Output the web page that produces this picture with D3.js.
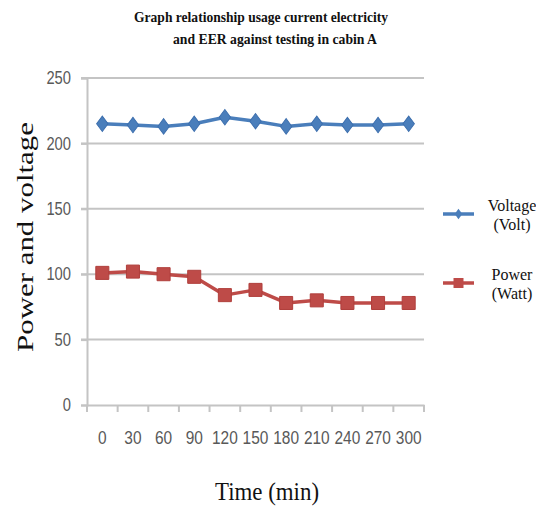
<!DOCTYPE html>
<html lang="en">
  <head>
    <meta charset="utf-8">
    <title>Power and voltage</title>
    <script src="https://cdn.jsdelivr.net/npm/d3@7"></script>
    <style>
      body { margin: 0; background: #fff; }
      .serif { font-family: "Liberation Serif", "Times New Roman", Tinos, serif; }
      .sans { font-family: "Liberation Sans", Arial, Arimo, sans-serif; }
    </style>
  </head>
  <body>
    <script>

      /* data */
      const times = [0, 30, 60, 90, 120, 150, 180, 210, 240, 270, 300];
      const voltage = [215, 214, 213, 215, 220, 217, 213, 215, 214, 214, 215];
      const power = [101, 102, 100, 98, 84, 88, 78, 80, 78, 78, 78];
      const y_ticks = [0, 50, 100, 150, 200, 250];
      const series_names = [["Voltage", "(Volt)"], ["Power", "(Watt)"]];

      const WIDTH = 536;
      const HEIGHT = 531;
      const PLOT_LEFT = 87;
      const PLOT_RIGHT = 424;
      const PLOT_TOP = 78;
      const PLOT_BOTTOM = 405;

      const BLUE = "#4a7ebb";
      const RED = "#be4b48";
      const GRID = "#c4c4c4";
      const LABEL = "#595959";

      let svg = d3.select("body").append("svg")
        .attr("width", WIDTH)
        .attr("height", HEIGHT);

      let x = d3.scaleBand()
        .domain(times)
        .range([PLOT_LEFT, PLOT_RIGHT]);

      let y = d3.scaleLinear()
        .domain([0, 250])
        .range([PLOT_BOTTOM, PLOT_TOP]);

      /* title */
      let title = svg.append("text")
        .attr("class", "serif")
        .attr("font-weight", "bold")
        .attr("font-size", 14)
        .attr("fill", "#111");
      title.append("tspan").attr("x", 261).attr("y", 22).attr("text-anchor", "middle")
        .attr("textLength", 254).attr("lengthAdjust", "spacingAndGlyphs")
        .text("Graph relationship  usage current  electricity");
      title.append("tspan").attr("x", 275).attr("y", 44).attr("text-anchor", "middle")
        .attr("textLength", 204).attr("lengthAdjust", "spacingAndGlyphs")
        .text("and EER against testing in cabin A");

      /* grid + y axis */
      svg.append("g")
        .selectAll("line")
        .data(y_ticks.filter(d => d > 0))
        .join("line")
        .attr("x1", PLOT_LEFT - 6)
        .attr("x2", PLOT_RIGHT)
        .attr("y1", d => y(d))
        .attr("y2", d => y(d))
        .attr("stroke", GRID)
        .attr("stroke-width", 2);

      let y_axis = svg.append("g")
        .attr("transform", "translate(" + PLOT_LEFT + ",0)")
        .call(d3.axisLeft(y).tickValues(y_ticks).tickSize(6).tickPadding(10));
      y_axis.attr("font-family", null);
      y_axis.select(".domain").attr("stroke", GRID).attr("stroke-width", 2);
      y_axis.selectAll(".tick line").attr("stroke", GRID).attr("stroke-width", 2);
      y_axis.selectAll(".tick text")
        .attr("class", "sans")
        .attr("font-size", 18)
        .attr("fill", LABEL)
        .attr("textLength", d => String(d).length * 8.2)
        .attr("lengthAdjust", "spacingAndGlyphs");

      /* x axis */
      let x_axis = svg.append("g")
        .attr("transform", "translate(0," + PLOT_BOTTOM + ")")
        .call(d3.axisBottom(x).tickSize(0).tickPadding(26));
      x_axis.attr("font-family", null);
      x_axis.select(".domain").attr("stroke", GRID).attr("stroke-width", 2);
      x_axis.selectAll(".tick text")
        .attr("class", "sans")
        .attr("font-size", 18)
        .attr("fill", LABEL)
        .attr("textLength", d => String(d).length * 8.6)
        .attr("lengthAdjust", "spacingAndGlyphs");

      // tick marks at band edges
      let edges = times.map(d => x(d)).concat([x(times[times.length - 1]) + x.bandwidth()]);
      svg.append("g")
        .selectAll("line")
        .data(edges)
        .join("line")
        .attr("x1", d => d)
        .attr("x2", d => d)
        .attr("y1", PLOT_BOTTOM)
        .attr("y2", PLOT_BOTTOM + 7)
        .attr("stroke", GRID)
        .attr("stroke-width", 2);

      /* axis titles */
      svg.append("text")
        .attr("class", "serif")
        .attr("transform", "translate(33,237) rotate(-90)")
        .attr("text-anchor", "middle")
        .attr("font-size", 23)
        .attr("fill", "#111")
        .attr("textLength", 230)
        .attr("lengthAdjust", "spacingAndGlyphs")
        .text("Power and voltage");

      svg.append("text")
        .attr("class", "serif")
        .attr("x", 267)
        .attr("y", 500)
        .attr("text-anchor", "middle")
        .attr("font-size", 26)
        .attr("fill", "#111")
        .attr("textLength", 104)
        .attr("lengthAdjust", "spacingAndGlyphs")
        .text("Time (min)");

      /* lines and markers */
      let cx = d => x(d) + x.bandwidth() / 2;
      let line = d3.line()
        .x((d, i) => cx(times[i]))
        .y(d => y(d));

      svg.append("path")
        .attr("d", line(voltage))
        .attr("fill", "none")
        .attr("stroke", BLUE)
        .attr("stroke-width", 3.5)
        .attr("stroke-linejoin", "round");

      svg.append("path")
        .attr("d", line(power))
        .attr("fill", "none")
        .attr("stroke", RED)
        .attr("stroke-width", 3.5)
        .attr("stroke-linejoin", "round");

      let diamond = d3.symbol().type(d3.symbolSquare).size(90);
      svg.append("g")
        .selectAll("path")
        .data(voltage)
        .join("path")
        .attr("d", diamond)
        .attr("transform", (d, i) => "translate(" + cx(times[i]) + "," + y(d) + ") scale(0.85,1.15) rotate(45)")
        .attr("fill", BLUE)
        .attr("stroke", "#3d6fae")
        .attr("stroke-width", 1);

      let square = d3.symbol().type(d3.symbolSquare).size(170);
      svg.append("g")
        .selectAll("path")
        .data(power)
        .join("path")
        .attr("d", square)
        .attr("transform", (d, i) => "translate(" + cx(times[i]) + "," + y(d) + ")")
        .attr("fill", RED)
        .attr("stroke", "#b03f3c")
        .attr("stroke-width", 1);

      /* legend */
      const LEGEND_Y = [214, 283];
      let legend = svg.append("g");
      series_names.forEach(function(names, i){
        let col = i === 0 ? BLUE : RED;
        legend.append("line")
          .attr("x1", 443).attr("x2", 474)
          .attr("y1", LEGEND_Y[i]).attr("y2", LEGEND_Y[i])
          .attr("stroke", col)
          .attr("stroke-width", 3.5);
        if (i === 0) {
          legend.append("path")
            .attr("d", d3.symbol().type(d3.symbolSquare).size(40))
            .attr("transform", "translate(458.5," + LEGEND_Y[i] + ") scale(0.85,1.15) rotate(45)")
            .attr("fill", col);
        } else {
          legend.append("path")
            .attr("d", d3.symbol().type(d3.symbolSquare).size(100))
            .attr("transform", "translate(458.5," + LEGEND_Y[i] + ")")
            .attr("fill", col);
        }
        let t = legend.append("text")
          .attr("class", "serif")
          .attr("font-size", 16)
          .attr("fill", "#111")
          .attr("text-anchor", "middle");
        t.append("tspan").attr("x", 512).attr("y", LEGEND_Y[i] - 3).text(names[0]);
        t.append("tspan").attr("x", 512).attr("y", LEGEND_Y[i] + 16).text(names[1]);
      });

    </script>
  </body>
</html>
